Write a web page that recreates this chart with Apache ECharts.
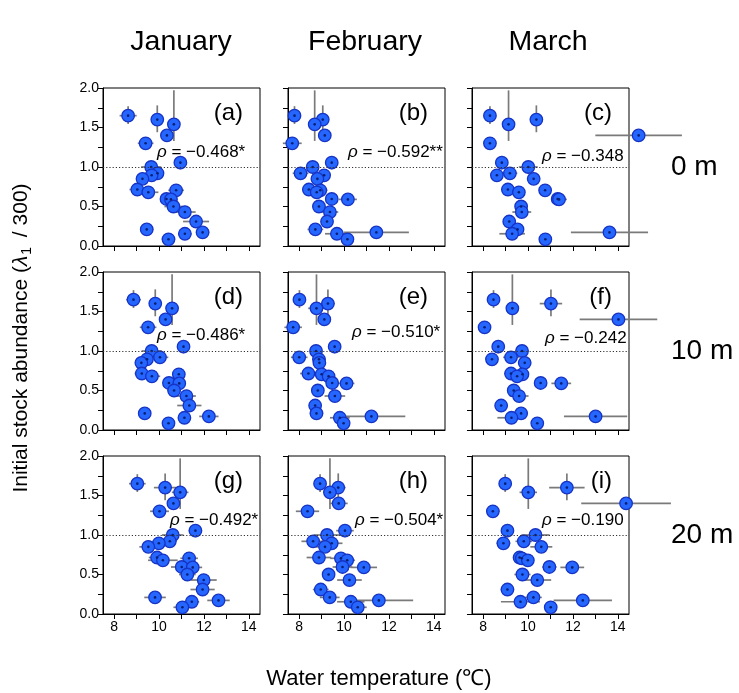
<!DOCTYPE html>
<html>
<head>
<meta charset="utf-8">
<script src="https://cdn.jsdelivr.net/npm/echarts@6/dist/echarts.min.js"></script>
<style>
  html, body { margin: 0; padding: 0; background: #fff; }
  #chart { width: 739px; height: 693px; }
</style>
</head>
<body>
<div id="chart"></div>
<script>
// Column (month) and row (depth) headings
const months = ['January', 'February', 'March'];
const depths = ['0 m', '10 m', '20 m'];
const panelTags = ['(a)', '(b)', '(c)', '(d)', '(e)', '(f)', '(g)', '(h)', '(i)'];
const rhoValues = ['\u22120.468*', '\u22120.592**', '\u22120.348',
                   '\u22120.486*', '\u22120.510*', '\u22120.242',
                   '\u22120.492*', '\u22120.504*', '\u22120.190'];

// Initial stock abundance per site (lambda1 / 300) with its interval
const abundance   = [1.65, 1.60, 1.54, 1.40, 1.30, 1.055, 1.00, 0.92, 0.895, 0.85, 0.715, 0.705, 0.68, 0.595, 0.59, 0.50, 0.43, 0.31, 0.21, 0.172, 0.155, 0.085];
const abundanceLo = [1.545, 1.44, 1.33, 1.345, 1.22, 0.97, 0.96, 0.895, 0.865, 0.82, 0.69, 0.68, 0.655, 0.57, 0.565, 0.475, 0.405, 0.285, 0.185, 0.147, 0.13, 0.06];
const abundanceHi = [1.77, 1.78, 1.97, 1.46, 1.38, 1.14, 1.04, 0.945, 0.925, 0.88, 0.74, 0.73, 0.705, 0.62, 0.615, 0.525, 0.455, 0.335, 0.235, 0.197, 0.18, 0.11];

// Water temperature (mean and half-range) per site, one pair of arrays per panel
const tempA = [8.62, 9.92, 10.66, 10.35, 9.40, 10.95, 9.65, 9.93, 9.67, 9.26, 9.03, 10.76, 9.52, 10.33, 10.53, 10.64, 11.15, 11.65, 9.45, 11.94, 11.15, 10.42];
const errA  = [0.38, 0.27, 0.27, 0.18, 0.35, 0.18, 0.45, 0.22, 0.2, 0.2, 0.35, 0.35, 0.45, 0.22, 0.2, 0.4, 0.48, 0.58, 0.3, 0.3, 0.3, 0.3];
const tempB = [7.79, 9.05, 8.69, 9.14, 7.69, 9.45, 8.60, 8.06, 9.11, 8.81, 8.43, 8.94, 8.78, 9.45, 10.17, 8.88, 9.37, 9.24, 8.72, 11.44, 9.68, 10.15];
const errB  = [0.2, 0.18, 0.3, 0.19, 0.42, 0.24, 0.26, 0.35, 0.26, 0.24, 0.27, 0.32, 0.22, 0.27, 0.4, 0.3, 0.37, 0.22, 0.35, 1.45, 0.53, 0.22];
const tempC = [8.30, 10.37, 9.13, 14.93, 8.30, 8.83, 10.01, 9.19, 8.61, 10.25, 9.10, 10.76, 9.59, 11.32, 11.38, 9.69, 9.72, 9.16, 9.53, 13.63, 9.29, 10.77];
const errC  = [0.22, 0.18, 0.26, 1.93, 0.24, 0.27, 0.42, 0.33, 0.18, 0.22, 0.24, 0.27, 0.2, 0.27, 0.35, 0.26, 0.42, 0.19, 0.27, 1.72, 0.57, 0.18];
const tempD = [8.86, 9.83, 10.58, 10.29, 9.51, 11.09, 9.67, 10.04, 9.46, 9.21, 9.23, 10.88, 9.68, 10.44, 10.90, 10.67, 11.22, 11.35, 9.36, 12.22, 11.13, 10.42];
const errD  = [0.33, 0.26, 0.28, 0.2, 0.37, 0.25, 0.45, 0.37, 0.26, 0.22, 0.32, 0.28, 0.37, 0.24, 0.22, 0.3, 0.42, 0.54, 0.26, 0.43, 0.24, 0.24];
const tempE = [8.01, 9.28, 8.77, 9.12, 7.73, 9.58, 8.75, 8.00, 8.88, 8.90, 8.41, 9.00, 9.31, 9.47, 10.11, 8.83, 9.59, 8.71, 8.77, 11.22, 9.81, 9.98];
const errE  = [0.28, 0.3, 0.37, 0.17, 0.39, 0.26, 0.22, 0.37, 0.3, 0.2, 0.37, 0.26, 0.2, 0.26, 0.35, 0.2, 0.46, 0.2, 0.3, 1.51, 0.44, 0.18];
const tempF = [8.46, 11.02, 9.30, 14.03, 8.06, 8.67, 9.73, 9.24, 8.39, 9.85, 9.24, 9.75, 9.51, 10.56, 11.48, 9.36, 9.60, 8.80, 9.69, 13.01, 9.26, 10.41];
const errF  = [0.2, 0.5, 0.27, 1.73, 0.19, 0.26, 0.3, 0.35, 0.19, 0.2, 0.3, 0.22, 0.18, 0.22, 0.44, 0.22, 0.42, 0.2, 0.31, 1.41, 0.63, 0.18];
const tempG = [9.03, 10.27, 10.94, 10.64, 10.02, 11.62, 10.61, 10.48, 9.99, 9.52, 9.91, 11.34, 10.17, 11.01, 11.50, 11.26, 11.99, 11.94, 9.82, 12.65, 11.46, 11.04];
const errG  = [0.37, 0.5, 0.37, 0.2, 0.42, 0.3, 0.48, 0.3, 0.44, 0.4, 0.37, 0.39, 0.66, 0.48, 0.42, 0.37, 0.58, 0.54, 0.48, 0.5, 0.33, 0.4];
const tempH = [8.93, 9.74, 9.37, 9.76, 8.37, 10.04, 9.24, 8.62, 9.45, 9.15, 8.88, 9.86, 10.14, 9.93, 10.88, 9.31, 10.24, 8.96, 9.36, 11.55, 10.30, 10.61];
const errH  = [0.26, 0.33, 0.3, 0.4, 0.52, 0.39, 0.59, 0.52, 0.48, 0.4, 0.55, 0.48, 0.35, 0.44, 0.59, 0.26, 0.55, 0.35, 0.44, 1.53, 0.61, 0.4];
const tempI = [8.98, 11.73, 10.01, 14.37, 8.43, 9.08, 10.33, 9.81, 8.90, 10.59, 9.62, 9.72, 9.99, 10.95, 11.97, 9.75, 10.41, 9.08, 10.24, 12.44, 9.66, 11.01];
const errI  = [0.22, 0.79, 0.39, 2.0, 0.3, 0.22, 0.63, 0.37, 0.31, 0.49, 0.26, 0.22, 0.24, 0.32, 0.53, 0.36, 0.62, 0.3, 0.37, 1.3, 0.87, 0.22];

// Axis ticks and labels
const xTicks = [8, 9, 10, 11, 12, 13, 14];
const xTickLabels = [8, 10, 12, 14];
const yTicks = [0, 0.25, 0.5, 0.75, 1.0, 1.25, 1.5, 1.75, 2.0];
const yTickLabels = [0, 0.5, 1.0, 1.5, 2.0];
const referenceLevel = 1.0;

const panelTemps = [tempA, tempB, tempC, tempD, tempE, tempF, tempG, tempH, tempI];
const panelErrs  = [errA, errB, errC, errD, errE, errF, errG, errH, errI];

// ---- layout ----
const FONT = '"Liberation Sans", Arial, Helvetica, sans-serif';
const GRID_LEFT = [103, 288, 472];
const GRID_TOP = [88, 272, 456];
const GRID_W = 157;
const GRID_H = 158;
const RHO_POS = [[157, 152], [348, 152], [542, 156],
                 [157, 335], [352, 332], [545, 338],
                 [170, 520], [355, 520], [542, 520]];

const grids = [], xAxes = [], yAxes = [], series = [], graphics = [];

for (let r = 0; r < 3; r++) {
  for (let c = 0; c < 3; c++) {
    const k = r * 3 + c;
    grids.push({
      left: GRID_LEFT[c], top: GRID_TOP[r], width: GRID_W, height: GRID_H,
      show: true, borderColor: '#000', borderWidth: 1, backgroundColor: 'transparent'
    });
    xAxes.push({
      type: 'value', gridIndex: k, min: 7.5, max: 14.5,
      axisLine: { show: true, onZero: false, lineStyle: { color: '#000', width: 1 } },
      axisTick: { show: true, inside: false, length: 5, customValues: xTicks, lineStyle: { color: '#000' } },
      axisLabel: { show: r === 2, customValues: xTickLabels, color: '#000', fontSize: 14, fontFamily: FONT, margin: 6 },
      splitLine: { show: false }
    });
    yAxes.push({
      type: 'value', gridIndex: k, min: 0, max: 2, interval: 0.25,
      axisLine: { show: true, onZero: false, lineStyle: { color: '#000', width: 1 } },
      axisTick: { show: true, inside: false, length: 5, customValues: yTicks, lineStyle: { color: '#000' } },
      axisLabel: { show: c === 0, customValues: yTickLabels, color: '#000', fontSize: 14, fontFamily: FONT, margin: 4,
                   formatter: v => Number(v).toFixed(1) },
      splitLine: { show: false }
    });

    const temps = panelTemps[k], errs = panelErrs[k];
    const errData = temps.map((t, i) => [t, abundance[i], errs[i], abundanceLo[i], abundanceHi[i]]);
    const ptData = temps.map((t, i) => [t, abundance[i]]);

    // error bars (horizontal: temperature range, vertical: abundance interval)
    series.push({
      type: 'custom', xAxisIndex: k, yAxisIndex: k, z: 2, silent: true,
      data: errData,
      renderItem: function (params, api) {
        const x = api.value(0), y = api.value(1), xe = api.value(2);
        const lo = api.value(3), hi = api.value(4);
        const h1 = api.coord([x - xe, y]), h2 = api.coord([x + xe, y]);
        const v1 = api.coord([x, lo]), v2 = api.coord([x, hi]);
        const st = { stroke: '#7a7a7a', lineWidth: 1.7 };
        return {
          type: 'group',
          children: [
            { type: 'line', shape: { x1: h1[0], y1: h1[1], x2: h2[0], y2: h2[1] }, style: st },
            { type: 'line', shape: { x1: v1[0], y1: v1[1], x2: v2[0], y2: v2[1] }, style: st }
          ]
        };
      },
      markLine: {
        silent: true, symbol: ['none', 'none'], label: { show: false },
        lineStyle: { type: [1.2, 2], color: '#333', width: 1 },
        data: [{ yAxis: referenceLevel }]
      }
    });
    series.push({
      type: 'scatter', xAxisIndex: k, yAxisIndex: k, z: 3, clip: false, silent: true,
      symbol: 'circle', symbolSize: 12.5,
      itemStyle: { color: '#2566ff', borderColor: '#1633c4', borderWidth: 1.3, opacity: 1 },
      data: ptData
    });
    series.push({
      type: 'scatter', xAxisIndex: k, yAxisIndex: k, z: 4, clip: false, silent: true,
      symbol: 'circle', symbolSize: 2.6,
      itemStyle: { color: '#0c1e70', opacity: 1 },
      data: ptData
    });

    // panel tag and Spearman's rho
    graphics.push({
      type: 'text', right: 739 - (GRID_LEFT[c] + GRID_W - 17), top: GRID_TOP[r] + 13,
      style: { text: panelTags[k], font: '24px ' + FONT, fill: '#000' }
    });
    graphics.push({
      type: 'text', x: RHO_POS[k][0], y: RHO_POS[k][1],
      style: {
        text: '{g|\u03c1}{t| = ' + rhoValues[k] + '}',
        verticalAlign: 'middle',
        rich: {
          g: { fontFamily: FONT, fontSize: 17, fontStyle: 'italic', fill: '#000' },
          t: { fontFamily: FONT, fontSize: 17, fill: '#000' }
        }
      }
    });
  }
}

// month headings
const MONTH_X = [181, 365, 548];
months.forEach((m, c) => {
  graphics.push({
    type: 'text', x: MONTH_X[c], y: 42,
    style: { text: m, font: '28.5px ' + FONT, fill: '#000', align: 'center', verticalAlign: 'middle' }
  });
});
// depth headings
depths.forEach((d, r) => {
  graphics.push({
    type: 'text', x: 671, y: GRID_TOP[r] + 79,
    style: { text: d, font: '28px ' + FONT, fill: '#000', align: 'left', verticalAlign: 'middle' }
  });
});
// axis titles
graphics.push({
  type: 'text', x: 379, y: 679,
  style: { text: 'Water temperature (\u2103)', font: '22px ' + FONT, fill: '#000', align: 'center', verticalAlign: 'middle' }
});
graphics.push({
  type: 'text', x: 21, y: 338, rotation: Math.PI / 2,
  style: {
    text: '{a|Initial stock abundance (}{l|\u03bb}{s|1}{a| / 300)}',
    align: 'center', verticalAlign: 'middle',
    rich: {
      a: { fontFamily: FONT, fontSize: 21, fill: '#000', lineHeight: 27 },
      l: { fontFamily: FONT, fontSize: 21, fontStyle: 'italic', fill: '#000', lineHeight: 27 },
      s: { fontFamily: FONT, fontSize: 14, fill: '#000', lineHeight: 27, verticalAlign: 'bottom', padding: [0, 4, 0, 1] }
    }
  }
});

const chart = echarts.init(document.getElementById('chart'), null, { renderer: 'canvas' });
chart.setOption({
  animation: false,
  backgroundColor: '#fff',
  grid: grids,
  xAxis: xAxes,
  yAxis: yAxes,
  series: series,
  graphic: graphics
});
</script>
</body>
</html>
